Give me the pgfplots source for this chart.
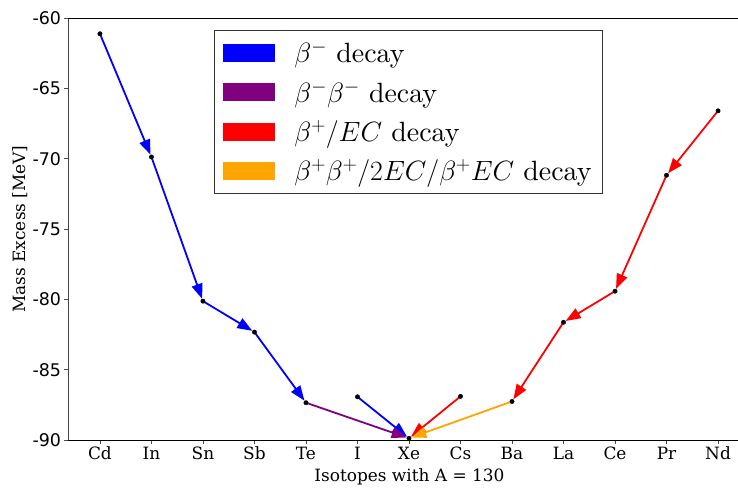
\documentclass[border=0pt]{standalone}
\usepackage{fix-cm}
\usepackage{pgfplots}
\pgfplotsset{compat=1.18}
\usepackage{fontspec}
\usetikzlibrary{arrows.meta}
\newfontfamily\serifd{DejaVu Serif}
\newfontfamily\sansd{DejaVu Sans}
\newfontfamily\cmten{lmroman10-regular.otf}

\definecolor{bmin}{RGB}{0,0,255}
\definecolor{bbmin}{RGB}{128,0,128}
\definecolor{bplus}{RGB}{255,0,0}
\definecolor{bbplus}{RGB}{255,165,0}

\begin{document}
\begin{tikzpicture}
\begin{axis}[
  name=ax,
  scale only axis,
  width=683bp, height=422bp,
  xmin=-0.62, xmax=12.64,
  ymin=-90, ymax=-60,
  xtick={0,...,12},
  xticklabels={Cd,In,Sn,Sb,Te,I,Xe,Cs,Ba,La,Ce,Pr,Nd},
  ytick={-90,-85,...,-60},
  yticklabels={-90,-85,-80,-75,-70,-65,-60},
  tick pos=left,
  tick align=outside,
  major tick length=3.5bp,
  every tick/.style={black!70, line width=0.6pt},
  axis line style={draw=none},
  x tick label style={font=\serifd\fontsize{17}{20}\selectfont},
  y tick label style={font=\sansd\fontsize{17.5}{20}\selectfont},
  xlabel={Isotopes with A = 130},
  ylabel={Mass Excess [MeV]},
  label style={font=\serifd\fontsize{17}{20}\selectfont},
  xlabel style={at={(axis description cs:0.5,-0.0877)}, anchor=center},
  ylabel style={at={(axis description cs:-0.0703,0.5)}, anchor=center},
  clip=false,
  legend cell align=left,
  legend image code/.code={\fill[#1, draw=none] (0bp,-9bp) rectangle (52bp,9bp);},
  legend style={
    at={(0.2138,0.9716)}, anchor=north west,
    draw=black!80, line width=0.8pt,
    font=\cmten\fontsize{28}{32}\selectfont,
    row sep=12.5bp,
    inner xsep=9bp, inner ysep=9bp,
    nodes={inner sep=2bp},
  },
]
% frame: left, bottom and top edges
\draw[black!75, line width=0.9pt] (rel axis cs:0,0) -- (rel axis cs:0,1);
\draw[black, line width=0.9pt] (rel axis cs:0,0) -- (rel axis cs:1,0);
\draw[black, line width=0.9pt] (rel axis cs:0,1) -- (rel axis cs:1,1);

\tikzset{decay/.style={line width=1.8pt, -{Triangle[length=15bp,width=11bp]}, shorten >=2.5bp}}

% beta- chain
\addplot[decay, bmin, forget plot] coordinates {(0,-61.12) (1,-69.88)};
\addplot[decay, bmin, forget plot] coordinates {(1,-69.88) (2,-80.13)};
\addplot[decay, bmin, forget plot] coordinates {(2,-80.13) (3,-82.33)};
\addplot[decay, bmin, forget plot] coordinates {(3,-82.33) (4,-87.35)};
\addplot[decay, bmin, forget plot] coordinates {(5,-86.93) (6,-89.88)};
% double beta- decay
\addplot[decay, bbmin, forget plot] coordinates {(4,-87.35) (6,-89.88)};
% beta+ / EC chain
\addplot[decay, bplus, forget plot] coordinates {(12,-66.60) (11,-71.18)};
\addplot[decay, bplus, forget plot] coordinates {(11,-71.18) (10,-79.42)};
\addplot[decay, bplus, forget plot] coordinates {(10,-79.42) (9,-81.63)};
\addplot[decay, bplus, forget plot] coordinates {(9,-81.63) (8,-87.26)};
\addplot[decay, bplus, forget plot] coordinates {(7,-86.90) (6,-89.88)};
% double beta+ / 2EC
\addplot[decay, bbplus, forget plot] coordinates {(8,-87.26) (6,-89.88)};

% nuclides
\addplot[only marks, mark=*, mark size=2.2bp, black, forget plot] coordinates {
  (0,-61.12) (1,-69.88) (2,-80.13) (3,-82.33) (4,-87.35) (5,-86.93) (6,-89.88)
  (7,-86.90) (8,-87.26) (9,-81.63) (10,-79.42) (11,-71.18) (12,-66.60)
};

\addlegendimage{fill=bmin}
\addlegendentry{\hspace{17bp}$\beta^-$\ decay}
\addlegendimage{fill=bbmin}
\addlegendentry{\hspace{17bp}$\beta^-\beta^-$\ decay}
\addlegendimage{fill=bplus}
\addlegendentry{\hspace{17bp}$\beta^+/EC$ decay}
\addlegendimage{fill=bbplus}
\addlegendentry{\hspace{17bp}$\beta^+\beta^+/2EC/\beta^+EC$ decay}
\end{axis}
% page: margins around the axis box, right edge cut at 738
\pgfresetboundingbox
\path ([xshift=-68bp,yshift=-49bp]ax.south west) rectangle ([xshift=-13bp,yshift=18bp]ax.north east);
\end{tikzpicture}
\end{document}
